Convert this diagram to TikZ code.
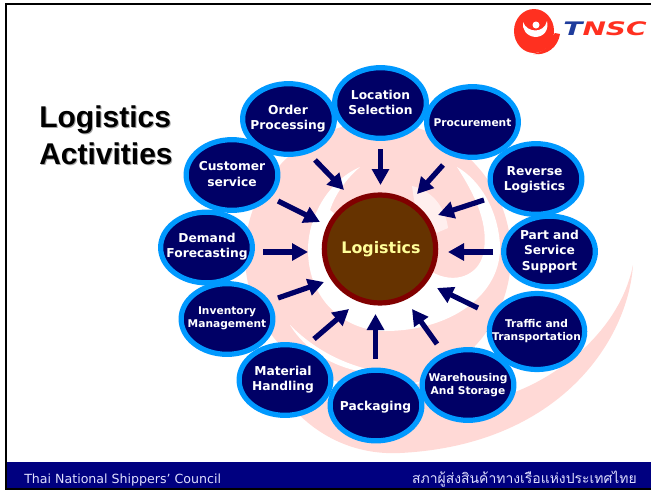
\documentclass[tikz,border=0pt]{standalone}
\usepackage{fontspec}
\usetikzlibrary{shapes.geometric,arrows.meta}
\setmainfont{DejaVu Sans}
\newfontfamily\titlefont{Liberation Sans}
\newfontfamily\thaifont[Script=Thai]{Loma}
\definecolor{navyfill}{HTML}{000066}
\definecolor{ringblue}{HTML}{0099FF}
\definecolor{barblue}{HTML}{000080}
\definecolor{pale}{HTML}{FFD9D6}
\definecolor{logored}{HTML}{FF3020}
\definecolor{logoblue}{HTML}{1E3C9C}
\definecolor{maroonring}{HTML}{800000}
\definecolor{corefill}{HTML}{663300}
\definecolor{coretext}{HTML}{FFFF99}
\tikzset{
  x=0.75pt,y=-0.75pt,
  blob/.style={ellipse,draw=ringblue,fill=navyfill,line width=3.9pt,minimum width=68.8pt,minimum height=53pt,inner sep=0pt},
  big/.style={text=white,align=center,inner sep=0pt,font=\bfseries\fontsize{9.2}{11.4}\selectfont},
  small/.style={text=white,align=center,inner sep=0pt,font=\bfseries\fontsize{8}{9.8}\selectfont},
  flow/.style={draw=navyfill,line width=3.9pt,-{Triangle[length=12pt,width=12.5pt]}},
  heading/.style={anchor=west,inner sep=0pt,font=\titlefont\bfseries\fontsize{22.5}{26}\selectfont},
  foot/.style={inner sep=0pt,text=white!88!blue,font=\fontsize{9.45}{11}\selectfont}
}
\begin{document}
\begin{tikzpicture}
\useasboundingbox (0,0) rectangle (651,490);
\fill[white] (0,0) rectangle (651,490);
% background swirl
\fill[pale] (378,255) circle[radius=133];
\fill[pale] (633,265) .. controls (628,340) and (560,445) .. (400,453) .. controls (360,455) and (320,440) .. (290,405) -- (440,380) -- (515,392) .. controls (560,375) and (620,330) .. (633,265) -- cycle;
\fill[white] (360,167) .. controls (330,180) and (308,215) .. (308,250) .. controls (308,300) and (345,331) .. (385,331) .. controls (450,331) and (502,295) .. (500,245) .. controls (498,210) and (480,180) .. (457,167) .. controls (475,195) and (490,225) .. (483,255) .. controls (478,275) and (455,285) .. (432,272) -- (380,250) -- (330,210) .. controls (335,195) and (345,180) .. (360,167) -- cycle;
\fill[white,opacity=.6] (412,186) .. controls (430,190) and (445,205) .. (448,228) -- (420,240) -- cycle;
\fill[white] (290,325) .. controls (305,350) and (340,375) .. (385,373) .. controls (345,366) and (315,350) .. (290,325) -- cycle;
% frame
\fill[barblue] (5,462) rectangle (651,490);
\fill[black] (4.5,3) rectangle (651,5);
\fill[black] (4.5,3) rectangle (6.5,490);
\fill[black] (4.5,488) rectangle (651,490);
% logo
\fill[logored] (534,31) ellipse[x radius=20,y radius=22];
\fill[white] (535,37) .. controls (526,36) and (522,29) .. (523,22) .. controls (527,33) and (544,34) .. (547,21) .. controls (549,30) and (544,37) .. (535,37) -- cycle;
\fill[white] (536,25) circle[radius=3.5];
\fill[logored] (551,38) .. controls (550,46) and (544,52) .. (533,54) .. controls (547,56) and (558,47) .. (560,34) -- (555,33) -- cycle;
\node[inner sep=0pt,anchor=west,xscale=1.5,font=\bfseries\itshape\fontsize{14}{14}\selectfont] (logotext) at (563,29) {\textcolor{logoblue}{T}\textcolor{logored}{NSC}};
% title
\node[heading,text=black!35] (t1s) at (40,121) {Logistics};
\node[heading,text=black!35] (t2s) at (40,155) {Activities};
\node[heading] (t1) at (39,120) {Logistics};
\node[heading] (t2) at (39,154) {Activities};
% centre
\node[ellipse,draw=maroonring,fill=corefill,line width=3.9pt,minimum width=83.5pt,minimum height=81pt,inner sep=0pt] (logi) at (380,249) {};
\node[inner sep=0pt,text=coretext,font=\bfseries\fontsize{11.9}{13}\selectfont] (logit) at (381,249.5) {Logistics};
% ellipses
\node[blob] (loc) at (380.5,103) {};
\node[blob] (ord) at (288.5,119) {};
\node[blob] (cus) at (232,175) {};
\node[blob] (dem) at (206.5,247.5) {};
\node[blob] (inv) at (227,319) {};
\node[blob] (mat) at (285,380) {};
\node[blob] (pac) at (376,405.5) {};
\node[blob] (war) at (468,385) {};
\node[blob,minimum width=71.5pt,minimum height=57pt] (tra) at (537,331.5) {};
\node[blob] (par) at (549.5,251.5) {};
\node[blob] (rev) at (536,179) {};
\node[blob] (pro) at (472.5,122) {};
\node[big] at (380.5,102.5) (loct) {Location\\Selection};
\node[big] at (288,119) (ordt) {Order\\Processing};
\node[big] at (232,174) (cust) {Customer\\service};
\node[big] at (207,246.5) (demt) {Demand\\Forecasting};
\node[small] at (227,318.5) (invt) {Inventory\\Management};
\node[big] at (283,379.5) (matt) {Material\\Handling};
\node[big] at (375.5,407) (pact) {Packaging};
\node[small] at (468,385) (wart) {Warehousing\\And Storage};
\node[small] at (536.5,331) (trat) {Traffic and\\Transportation};
\node[big] at (549.5,251.5) (part) {Part and\\Service\\Support};
\node[big] at (534.5,179.5) (revt) {Reverse\\Logistics};
\node[small] at (472.5,123) (prot) {Procurement};
% arrow ends
\coordinate (a1) at (380.5,149); \coordinate (b1) at (380.5,185);
\coordinate (a2) at (315,160); \coordinate (b2) at (344,190);
\coordinate (a3) at (278,201); \coordinate (b3) at (320,222);
\coordinate (a4) at (263,252); \coordinate (b4) at (308,252);
\coordinate (a5) at (278,298); \coordinate (b5) at (324,282);
\coordinate (a6) at (314,339) ; \coordinate (b6) at (349,309);
\coordinate (a7) at (375.5,359); \coordinate (b7) at (375.5,314);
\coordinate (a8) at (437,344); \coordinate (b8) at (412,309);
\coordinate (a9) at (478,308); \coordinate (b9) at (437,288);
\coordinate (a10) at (493,252); \coordinate (b10) at (448,252);
\coordinate (a11) at (484,200); \coordinate (b11) at (438,215);
\coordinate (a12) at (443,165); \coordinate (b12) at (417,194);
\foreach \i in {1,...,12}{\draw[flow] (a\i) -- (b\i);}
% footer
\node[foot,anchor=west] (fl) at (24,480) {Thai National Shippers' Council};
\node[foot,anchor=east,font=\thaifont\fontsize{10.45}{13}\selectfont] (fr) at (637,479.5) {สภาผู้ส่งสินค้าทางเรือแห่งประเทศไทย};
\end{tikzpicture}
\end{document}
